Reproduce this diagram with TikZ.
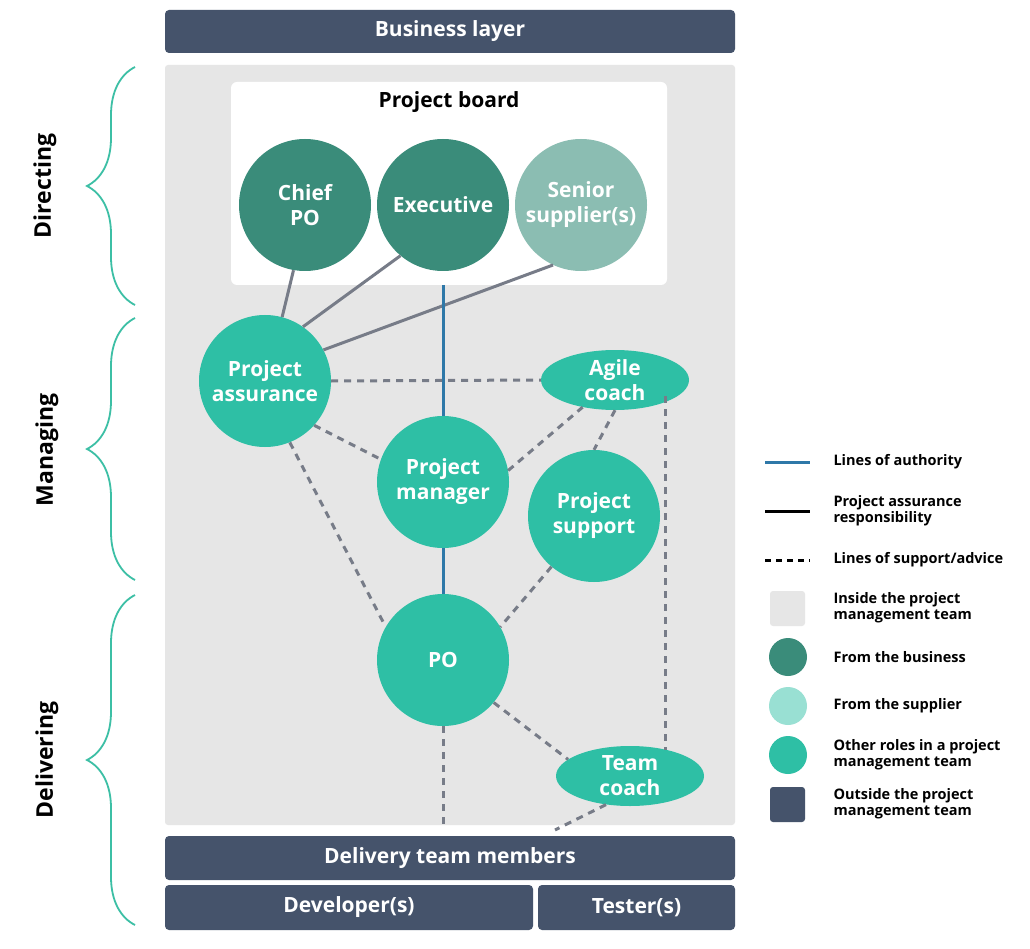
\documentclass[tikz,border=0pt]{standalone}
\usepackage{fontspec}
\setmainfont{Open Sans}
\usetikzlibrary{decorations.pathreplacing,shapes.geometric}
\definecolor{dk}{HTML}{45536B}
\definecolor{bg}{HTML}{E6E6E6}
\definecolor{biz}{HTML}{3A8C7A}
\definecolor{sup}{HTML}{8BBDB2}
\definecolor{supl}{HTML}{99E0D3}
\definecolor{oth}{HTML}{2EBFA5}
\definecolor{auth}{HTML}{2E78A8}
\definecolor{gl}{HTML}{777C88}
\definecolor{br}{HTML}{3CBFA5}
\begin{document}
\begin{tikzpicture}[x=1pt,y=-1pt,
  bar/.style={fill=dk,rounded corners=4pt,text=white,font=\bfseries\fontsize{21}{24}\selectfont},
  circ/.style={circle,minimum size=132pt,inner sep=0pt,align=center,text=white,font=\bfseries\fontsize{21}{25}\selectfont},
  ell/.style={ellipse,minimum width=148pt,minimum height=60pt,inner sep=0pt,align=center,text=white,font=\bfseries\fontsize{21}{25}\selectfont,fill=oth},
  sol/.style={gl,line width=3pt},
  dsh/.style={gl,line width=3pt,dash pattern=on 7pt off 6pt},
  lg/.style={anchor=west,align=left,font=\bfseries\fontsize{14.5}{16}\selectfont},
  brc/.style={br,line width=1.8pt,decorate,decoration={brace,amplitude=48pt,mirror}},
  side/.style={rotate=90,font=\bfseries\fontsize{23}{26}\selectfont}]
\useasboundingbox (0,0) rectangle (1030,949);
\fill[white] (0,0) rectangle (1030,949);
\node[bar,minimum width=570pt,minimum height=43pt] (bl) at (450,31.5) {Business layer};
\fill[bg,rounded corners=3pt] (165,65) rectangle (735,825);
\fill[white,rounded corners=6pt] (231,82) rectangle (667,285);
\node[font=\bfseries\fontsize{21}{24}\selectfont] (pb) at (449,102) {Project board};
\node[circ,fill=biz] (cpo) at (305,205) {Chief\\PO};
\node[circ,fill=biz] (ex) at (443,205) {Executive};
\node[circ,fill=sup] (ss) at (581,205) {Senior\\supplier(s)};
\node[circ,fill=oth] (pa) at (265,381) {Project\\assurance};
\node[ell] (ac) at (615,380) {Agile\\coach};
\node[circ,fill=oth] (pm) at (443,482) {Project\\manager};
\node[circ,fill=oth] (ps) at (594,516) {Project\\support};
\node[circ,fill=oth] (po) at (443,660) {PO};
\node[ell] (tc) at (630,776) {Team\\coach};
\node[bar,minimum width=570pt,minimum height=44pt] (dtm) at (450,858) {Delivery team members};
\node[bar,minimum width=368pt,minimum height=45pt] (dev) at (349,907.5) {Developer(s)};
\node[bar,minimum width=197pt,minimum height=45pt] (tes) at (636.5,907.5) {Tester(s)};
\coordinate (bt) at (443,285);
\coordinate (v1) at (665,396);
\coordinate (v2) at (665,750);
\coordinate (d1e) at (443,830);
\coordinate (d2e) at (555,830);
% lines
\draw[sol] (cpo.-100) -- (pa.75);
\draw[sol] (ex.-130) -- (pa.55);
\draw[sol] (ss.-115) -- (pa.28);
\draw[auth,line width=3pt] (bt) -- (pm.north);
\draw[auth,line width=3pt] (pm.south) -- (po.north);
\draw[dsh] (pa.east) -- (ac.west);
\draw[dsh] (pa.-42) -- (pm.160);
\draw[dsh] (pa.-68) -- (po.150);
\draw[dsh] (pm.10) -- (ac.-140);
\draw[dsh] (ac.south) -- (ps.north);
\draw[dsh] (ps.-130) -- (po.30);
\draw[dsh] (po.-40) -- (tc.165);
\draw[dsh] (v1) -- (v2);
\draw[dsh] (po.south) -- (d1e);
\draw[dsh] (tc.-130) -- (d2e);
% braces
\draw[brc] (135,67) -- (135,305);
\draw[brc] (135,318) -- (135,580);
\draw[brc] (135,595) -- (135,925);
\node[side] (s1) at (45,186) {Directing};
\node[side] (s2) at (47,450) {Managing};
\node[side] (s3) at (47,760) {Delivering};
% legend
\coordinate (l1a) at (765,462); \coordinate (l1b) at (810,462);
\draw[auth,line width=3pt] (l1a) -- (l1b);
\node[lg] (t1) at (830,462) {Lines of authority};
\coordinate (l2a) at (765,511); \coordinate (l2b) at (810,511);
\draw[black,line width=3pt] (l2a) -- (l2b);
\node[lg] (t2) at (830,511) {Project assurance\\responsibility};
\coordinate (l3a) at (765,560); \coordinate (l3b) at (810,560);
\draw[black,line width=3pt,dash pattern=on 6pt off 5pt] (l3a) -- (l3b);
\node[lg] (t3) at (830,560) {Lines of support/advice};
\fill[bg,rounded corners=3pt] (770,591) rectangle (805,626);
\node[lg] (t4) at (830,608) {Inside the project\\management team};
\fill[biz] (788,657) circle (19);
\node[lg] (t5) at (830,657) {From the business};
\fill[supl] (788,706) circle (19);
\node[lg] (t6) at (830,706) {From the supplier};
\fill[oth] (788,755) circle (19);
\node[lg] (t7) at (830,755) {Other roles in a project\\management team};
\fill[dk,rounded corners=3pt] (770,787) rectangle (805,822);
\node[lg] (t8) at (830,804) {Outside the project\\management team};
\end{tikzpicture}
\end{document}
